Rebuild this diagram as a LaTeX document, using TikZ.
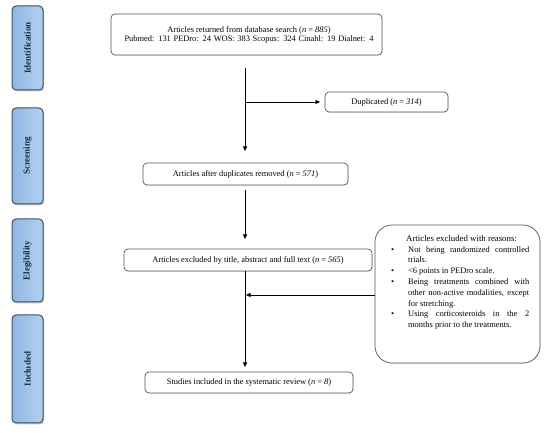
\documentclass[tikz,border=0pt]{standalone}
\usepackage{fontspec}
\setmainfont{Liberation Serif}
\usetikzlibrary{arrows.meta,shadows,positioning}
\definecolor{sidefillA}{HTML}{8DB7E2}
\definecolor{sidefillB}{HTML}{B3D1EE}
\definecolor{sideborder}{HTML}{3E4E63}
\definecolor{sidetext}{HTML}{1C2A48}
\definecolor{boxborder}{HTML}{555555}
\newcommand{\ritem}[1]{\noindent\hangindent=17pt\hangafter=1\makebox[17pt][l]{\textbullet}#1\par}
\tikzset{
  sidebox/.style={draw=sideborder, line width=1pt, rounded corners=4pt,
    left color=sidefillA, right color=sidefillB,
    drop shadow={opacity=0.45, shadow xshift=1.2pt, shadow yshift=-1.4pt}},
  sidelabel/.style={rotate=90, font=\fontsize{9}{11}\selectfont\bfseries, text=sidetext},
  flowbox/.style={draw=boxborder, line width=0.7pt, rounded corners=4pt, fill=white,
    drop shadow={opacity=0.15, shadow xshift=0.8pt, shadow yshift=-0.8pt}},
  flowtext/.style={font=\fontsize{8.4}{10}\selectfont, align=center},
  arr/.style={line width=0.6pt, -{Triangle[length=4.5pt,width=4pt]}},
  ln/.style={line width=0.6pt}
}
\begin{document}
\begin{tikzpicture}[x=1pt,y=-1pt]
\useasboundingbox (0,0) rectangle (550,433);
% side phase boxes
\draw[sidebox] (12,6) rectangle (43,90);
\node[sidelabel] (lid) at (27.5,48) {Identification};
\draw[sidebox] (12,108) rectangle (43,204);
\node[sidelabel] (lsc) at (27.5,156) {Screening};
\draw[sidebox] (12,219) rectangle (43,302);
\node[sidelabel] (lel) at (27.5,260.5) {Elegibility};
\draw[sidebox] (12,315) rectangle (43,423);
\node[sidelabel] (lin) at (27.5,369) {Included};
% flow boxes
\draw[flowbox] (111,14) rectangle (382,55);
\node[flowtext] (b1) at (249,34.5) {Articles returned from database search (\textit{n} = \textit{885})\\[-1pt]\makebox[249pt][s]{Pubmed: 131 PEDro: 24 WOS: 383 Scopus: 324 Cinahl: 19 Dialnet: 4}};
\coordinate (b1s) at (245,55);
\draw[flowbox] (325,92) rectangle (448,112);
\node[flowtext] (dup) at (386.5,102) {Duplicated (\textit{n} = \textit{314})};
\coordinate (dupw) at (325,102);
\draw[flowbox] (143,163) rectangle (348,185);
\node[flowtext] (b2) at (245.5,174) {Articles after duplicates removed (\textit{n} = \textit{571})};
\coordinate (b2n) at (245,163);
\coordinate (b2s) at (245,185);
\draw[flowbox] (124,249) rectangle (372,271);
\node[flowtext] (b3) at (248,260) {Articles excluded by title, abstract and full text (\textit{n} = \textit{565})};
\coordinate (b3n) at (245,249);
\coordinate (b3s) at (245,271);
\draw[flowbox] (145,372) rectangle (353,393);
\node[flowtext] (b4) at (249,382.5) {Studies included in the systematic review (\textit{n} = \textit{8})};
\coordinate (b4n) at (245,372);
% reasons box
\draw[flowbox, rounded corners=17pt] (375,225) rectangle (540,363);
\coordinate (rw) at (375,295);
\node[anchor=north west, inner sep=0pt, text width=138pt, align=justify, font=\fontsize{8.4}{10.8}\selectfont] (rs) at (391,235) {\hyphenpenalty=10000\exhyphenpenalty=10000
\noindent\hspace*{15pt}{\fontsize{8.8}{10.8}\selectfont Articles excluded with reasons:}\par
\ritem{Not being randomized controlled trials.}
\ritem{<6 points in PEDro scale.}
\ritem{Being treatments combined with other non-active modalities, except for stretching.}
\ritem{Using corticosteroids in the 2 months prior to the treatments.}};
% connectors
\coordinate (br) at (245,102);
\coordinate (j) at (245,295);
\draw[arr, shorten <=13pt, shorten >=12pt] (b1s) -- (b2n);
\draw[arr, shorten >=5pt] (br) -- (dupw);
\draw[arr, shorten <=5pt, shorten >=10pt] (b2s) -- (b3n);
\draw[arr, shorten >=5pt] (b3s) -- (b4n);
\draw[arr, shorten >=1pt] (rw) -- (j);
\end{tikzpicture}
\end{document}
